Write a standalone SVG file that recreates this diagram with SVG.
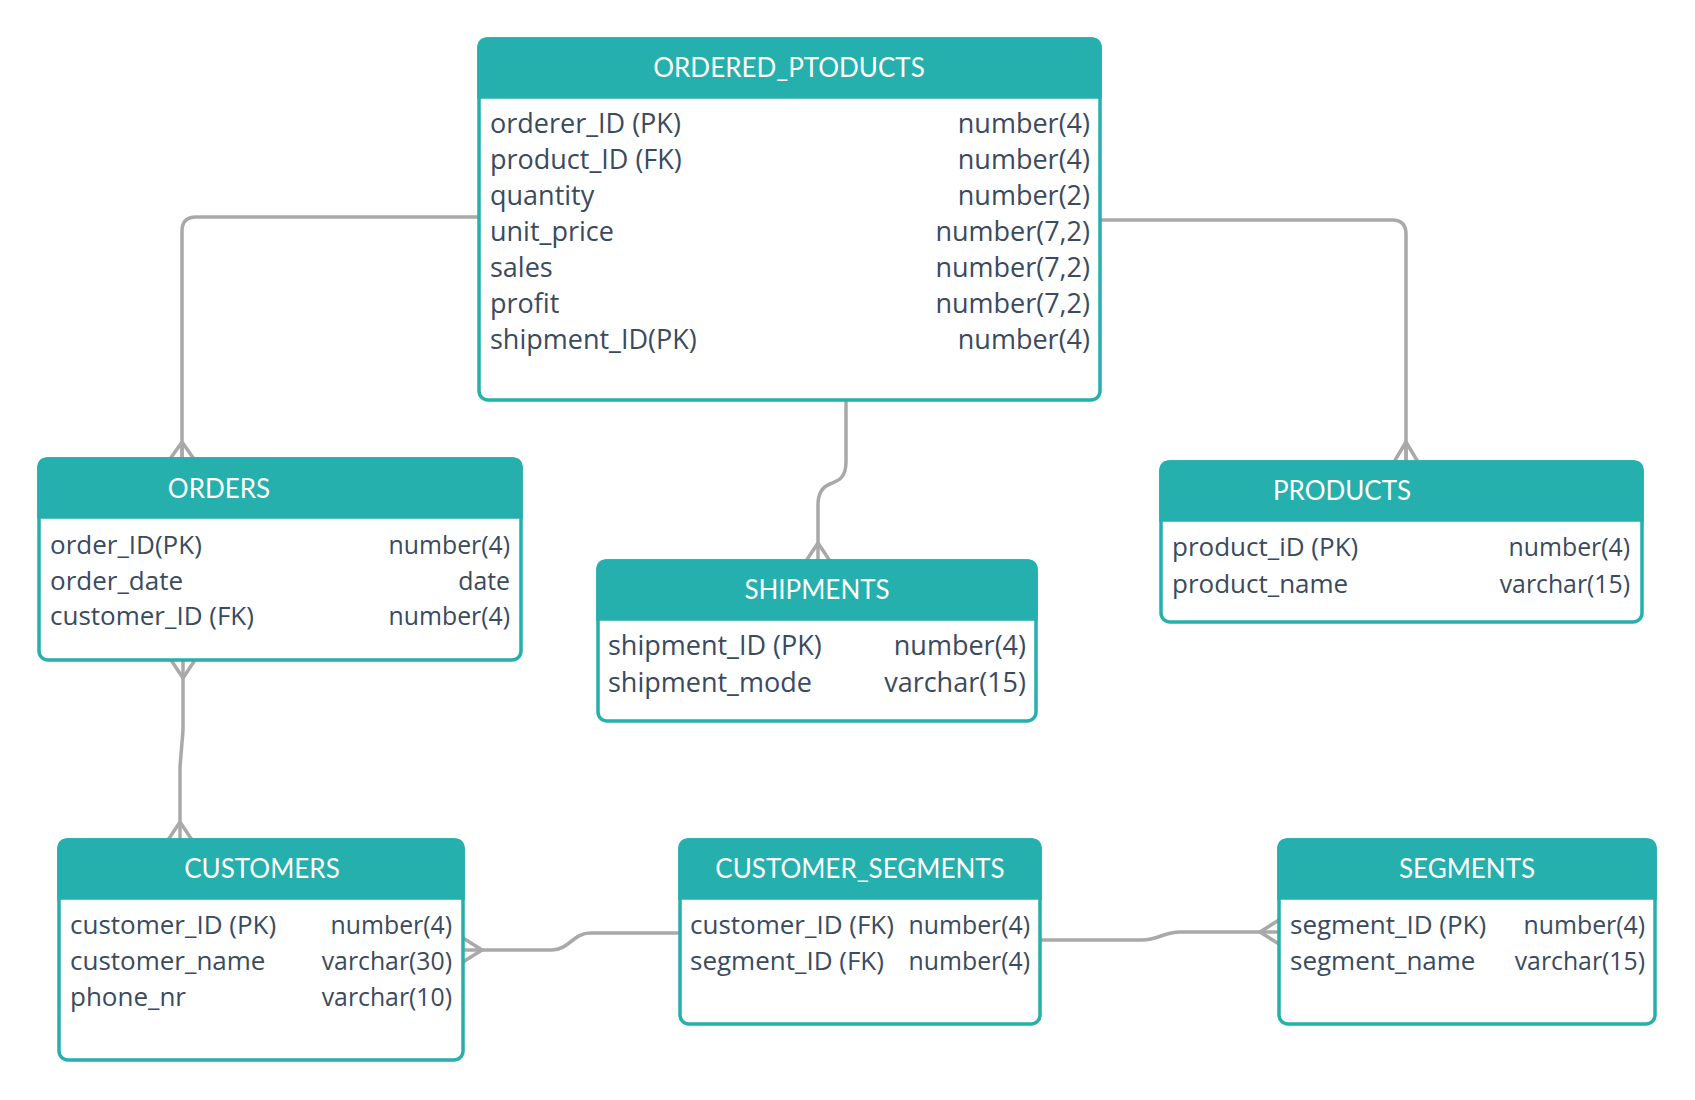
<svg xmlns="http://www.w3.org/2000/svg" width="1695" height="1100" viewBox="0 0 1695 1100">
<style>
.box{fill:#ffffff;stroke:#25AFAD;stroke-width:3.5}
.hdr{fill:#25AFAD;stroke:#25AFAD;stroke-width:3.5}
.title{font-family:Lato,"Liberation Sans",sans-serif;font-size:26px;fill:#ffffff;text-anchor:middle}
.f{font-family:"Open Sans","Noto Sans","Liberation Sans",sans-serif;font-size:26px;fill:#3A4A5F}
.t{font-family:"Open Sans","Noto Sans","Liberation Sans",sans-serif;font-size:24.8px;fill:#3A4A5F;text-anchor:end}
.big .f,.big .t{font-size:27px}
.c{fill:none;stroke:#A9A9A9;stroke-width:3.5;stroke-linecap:round;stroke-linejoin:round}
</style>
<rect width="1695" height="1100" fill="#ffffff"/>
<g id="connectors">
<path class="c" d="M479,217 H196 Q182,217 182,231 V459"/>
<path class="c" d="M170,459 L182,442 L194,459 M182,442 V459"/>
<path class="c" d="M1101,220 H1392 Q1406,220 1406,234 V462"/>
<path class="c" d="M1394,462 L1406,442 L1418,462 M1406,442 V462"/>
<path class="c" d="M846,400 V462 C846,478 838,481 830,484 C822,487 818,493 818,505 V561"/>
<path class="c" d="M806,561 L818,543 L830,561"/>
<path class="c" d="M183,660 V730 L180,767 V840"/>
<path class="c" d="M171,660 L183,678 L195,660"/>
<path class="c" d="M168,840 L180,822 L192,840"/>
<path class="c" d="M463,950 H552 C568,950 574,933 590,933 H680"/>
<path class="c" d="M463,938 L482,950 L463,962"/>
<path class="c" d="M1040,940 H1142 C1158,940 1164,932 1180,932 H1279"/>
<path class="c" d="M1279,920 L1260,932 L1279,944"/>
</g>
<g id="ordered_products" class="big">
<rect class="box" x="479" y="39" width="621" height="361" rx="9"/>
<path class="hdr" d="M479,97 V48 Q479,39 488,39 H1091 Q1100,39 1100,48 V97 Z"/>
<text class="title" x="789" y="77">ORDERED_PTODUCTS</text>
<text class="f" x="490" y="133">orderer_ID (PK)</text><text class="t" x="1090" y="133">number(4)</text>
<text class="f" x="490" y="169">product_ID (FK)</text><text class="t" x="1090" y="169">number(4)</text>
<text class="f" x="490" y="205">quantity</text><text class="t" x="1090" y="205">number(2)</text>
<text class="f" x="490" y="241">unit_price</text><text class="t" x="1090" y="241">number(7,2)</text>
<text class="f" x="490" y="277">sales</text><text class="t" x="1090" y="277">number(7,2)</text>
<text class="f" x="490" y="313">profit</text><text class="t" x="1090" y="313">number(7,2)</text>
<text class="f" x="490" y="349">shipment_ID(PK)</text><text class="t" x="1090" y="349">number(4)</text>
</g>
<g id="orders">
<rect class="box" x="39" y="459" width="482" height="201" rx="9"/>
<path class="hdr" d="M39,517 V468 Q39,459 48,459 H512 Q521,459 521,468 V517 Z"/>
<text class="title" x="219" y="498">ORDERS</text>
<text class="f" x="50" y="554">order_ID(PK)</text><text class="t" x="510" y="554">number(4)</text>
<text class="f" x="50" y="590">order_date</text><text class="t" x="510" y="590">date</text>
<text class="f" x="50" y="625">customer_ID (FK)</text><text class="t" x="510" y="625">number(4)</text>
</g>
<g id="shipments" class="big">
<rect class="box" x="598" y="561" width="438" height="160" rx="9"/>
<path class="hdr" d="M598,619 V570 Q598,561 607,561 H1027 Q1036,561 1036,570 V619 Z"/>
<text class="title" x="817" y="599">SHIPMENTS</text>
<text class="f" x="608" y="655">shipment_ID (PK)</text><text class="t" x="1026" y="655">number(4)</text>
<text class="f" x="608" y="692">shipment_mode</text><text class="t" x="1026" y="692">varchar(15)</text>
</g>
<g id="products">
<rect class="box" x="1161" y="462" width="481" height="160" rx="9"/>
<path class="hdr" d="M1161,520 V471 Q1161,462 1170,462 H1633 Q1642,462 1642,471 V520 Z"/>
<text class="title" x="1342" y="500">PRODUCTS</text>
<text class="f" x="1172" y="556">product_iD (PK)</text><text class="t" x="1630" y="556">number(4)</text>
<text class="f" x="1172" y="593">product_name</text><text class="t" x="1630" y="593">varchar(15)</text>
</g>
<g id="customers">
<rect class="box" x="59" y="840" width="404" height="220" rx="9"/>
<path class="hdr" d="M59,898 V849 Q59,840 68,840 H454 Q463,840 463,849 V898 Z"/>
<text class="title" x="262" y="878">CUSTOMERS</text>
<text class="f" x="70" y="934">customer_ID (PK)</text><text class="t" x="452" y="934">number(4)</text>
<text class="f" x="70" y="970">customer_name</text><text class="t" x="452" y="970">varchar(30)</text>
<text class="f" x="70" y="1006">phone_nr</text><text class="t" x="452" y="1006">varchar(10)</text>
</g>
<g id="customer_segments">
<rect class="box" x="680" y="840" width="360" height="184" rx="9"/>
<path class="hdr" d="M680,898 V849 Q680,840 689,840 H1031 Q1040,840 1040,849 V898 Z"/>
<text class="title" x="860" y="878">CUSTOMER_SEGMENTS</text>
<text class="f" x="690" y="934">customer_ID (FK)</text><text class="t" x="1030" y="934">number(4)</text>
<text class="f" x="690" y="970">segment_ID (FK)</text><text class="t" x="1030" y="970">number(4)</text>
</g>
<g id="segments">
<rect class="box" x="1279" y="840" width="376" height="184" rx="9"/>
<path class="hdr" d="M1279,898 V849 Q1279,840 1288,840 H1646 Q1655,840 1655,849 V898 Z"/>
<text class="title" x="1467" y="878">SEGMENTS</text>
<text class="f" x="1290" y="934">segment_ID (PK)</text><text class="t" x="1645" y="934">number(4)</text>
<text class="f" x="1290" y="970">segment_name</text><text class="t" x="1645" y="970">varchar(15)</text>
</g>
</svg>
